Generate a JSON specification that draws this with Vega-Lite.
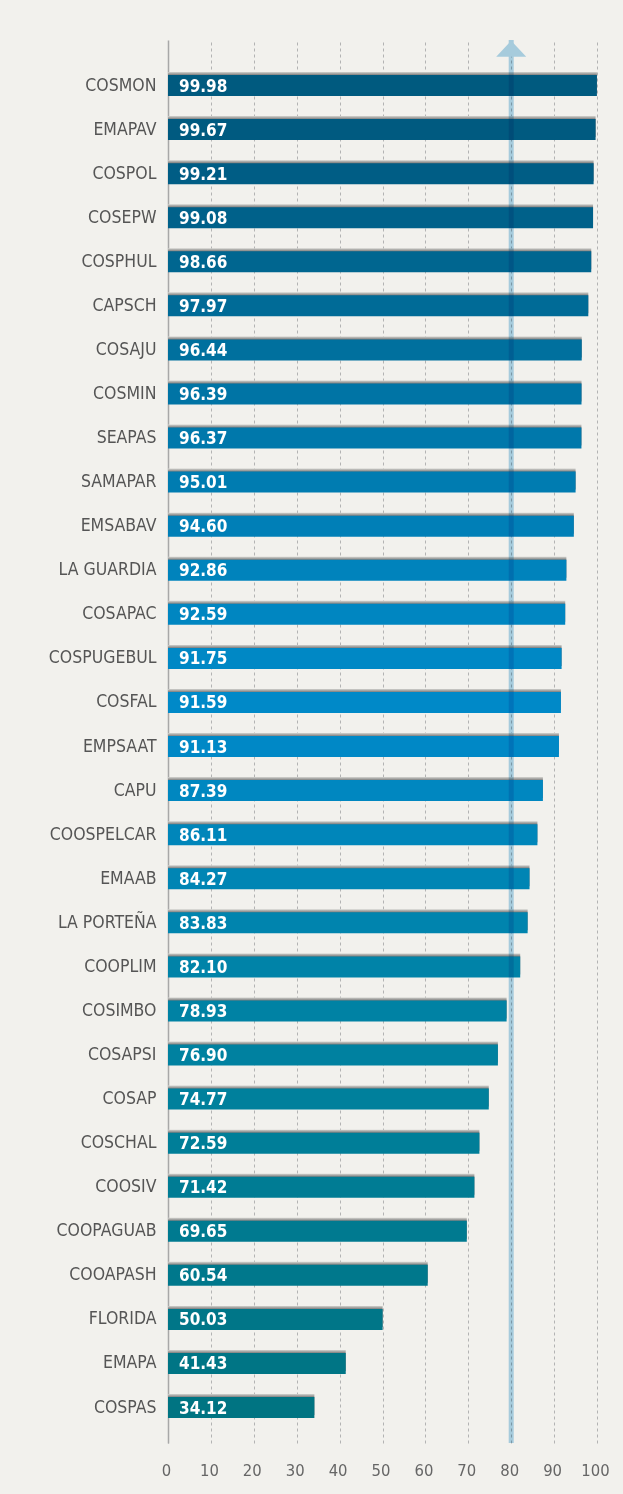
{
  "$schema": "https://vega.github.io/schema/vega-lite/v6.json",
  "width": 429,
  "height": 1403,
  "autosize": "none",
  "padding": {"left": 168, "top": 40, "right": 26, "bottom": 51},
  "background": "#f2f1ed",
  "config": {
    "view": {"stroke": null},
    "font": "DejaVu Sans Condensed"
  },
  "data": {
    "values": [
      {"name": "COSMON", "value": 99.98},
      {"name": "EMAPAV", "value": 99.67},
      {"name": "COSPOL", "value": 99.21},
      {"name": "COSEPW", "value": 99.08},
      {"name": "COSPHUL", "value": 98.66},
      {"name": "CAPSCH", "value": 97.97},
      {"name": "COSAJU", "value": 96.44},
      {"name": "COSMIN", "value": 96.39},
      {"name": "SEAPAS", "value": 96.37},
      {"name": "SAMAPAR", "value": 95.01},
      {"name": "EMSABAV", "value": 94.60},
      {"name": "LA GUARDIA", "value": 92.86},
      {"name": "COSAPAC", "value": 92.59},
      {"name": "COSPUGEBUL", "value": 91.75},
      {"name": "COSFAL", "value": 91.59},
      {"name": "EMPSAAT", "value": 91.13},
      {"name": "CAPU", "value": 87.39},
      {"name": "COOSPELCAR", "value": 86.11},
      {"name": "EMAAB", "value": 84.27},
      {"name": "LA PORTEÑA", "value": 83.83},
      {"name": "COOPLIM", "value": 82.10},
      {"name": "COSIMBO", "value": 78.93},
      {"name": "COSAPSI", "value": 76.90},
      {"name": "COSAP", "value": 74.77},
      {"name": "COSCHAL", "value": 72.59},
      {"name": "COOSIV", "value": 71.42},
      {"name": "COOPAGUAB", "value": 69.65},
      {"name": "COOAPASH", "value": 60.54},
      {"name": "FLORIDA", "value": 50.03},
      {"name": "EMAPA", "value": 41.43},
      {"name": "COSPAS", "value": 34.12}
    ]
  },
  "layer": [
    {
      "mark": {
        "type": "bar",
        "yOffset": -3,
        "fill": {
          "gradient": "linear",
          "x1": 0, "y1": 0, "x2": 0, "y2": 1,
          "stops": [
            {"offset": 0, "color": "#d2d2ce"},
            {"offset": 0.15, "color": "#7a7a7a"},
            {"offset": 1, "color": "#7a7a7a"}
          ]
        }
      },
      "encoding": {
        "y": {
          "field": "name",
          "type": "nominal",
          "sort": null,
          "scale": {"paddingInner": 0.5235, "paddingOuter": 0.68, "align": 0.584},
          "axis": {
            "title": null,
            "domain": true,
            "domainColor": "#a8a8a8",
            "domainWidth": 1.5,
            "ticks": false,
            "grid": false,
            "labelPadding": 12,
            "labelFontSize": 17.5,
            "labelColor": "#555555",
            "labelFont": "DejaVu Sans Condensed"
          }
        },
        "x": {
          "field": "value",
          "type": "quantitative",
          "scale": {"domain": [0, 100], "nice": false},
          "axis": {
            "title": null,
            "values": [0, 10, 20, 30, 40, 50, 60, 70, 80, 90, 100],
            "domain": false,
            "ticks": false,
            "grid": true,
            "gridDash": [3, 3],
            "gridColor": "#b3b3b3",
            "gridWidth": 1,
            "labelFontSize": 16.5,
            "labelColor": "#666666",
            "labelPadding": 19,
            "labelOffset": -2,
            "labelFlush": false,
            "labelOverlap": false,
            "labelFont": "DejaVu Sans Condensed"
          }
        }
      }
    },
    {
      "mark": {"type": "bar"},
      "encoding": {
        "y": {"field": "name", "type": "nominal", "sort": null},
        "x": {"field": "value", "type": "quantitative"},
        "color": {
          "field": "name",
          "type": "nominal",
          "legend": null,
          "scale": {
            "domain": ["COSMON","EMAPAV","COSPOL","COSEPW","COSPHUL","CAPSCH","COSAJU","COSMIN","SEAPAS","SAMAPAR","EMSABAV","LA GUARDIA","COSAPAC","COSPUGEBUL","COSFAL","EMPSAAT","CAPU","COOSPELCAR","EMAAB","LA PORTEÑA","COOPLIM","COSIMBO","COSAPSI","COSAP","COSCHAL","COOSIV","COOPAGUAB","COOAPASH","FLORIDA","EMAPA","COSPAS"],
            "range": ["#005a7f","#005a80","#005d85","#00618a","#006690","#006b97","#00709e","#0074a5","#0078ab","#007cb1","#007fb7","#0083bc","#0086c1","#0088c5","#0089c8","#0088c6","#0087c0","#0086ba","#0085b4","#0084ae","#0083a8","#0082a4","#0081a0","#00809c","#007e98","#007c94","#007a90","#00788c","#007688","#007585","#007482"]
          }
        }
      }
    },
    {
      "mark": {
        "type": "text",
        "align": "left",
        "baseline": "middle",
        "dx": 11,
        "dy": 1,
        "font": "DejaVu Sans Condensed",
        "fontWeight": "bold",
        "fontSize": 17,
        "color": "#ffffff"
      },
      "encoding": {
        "y": {"field": "name", "type": "nominal", "sort": null},
        "x": {"datum": 0, "type": "quantitative"},
        "text": {"field": "value", "type": "quantitative", "format": ".2f"}
      }
    },
    {
      "data": {"values": [{"target": 80}]},
      "mark": {"type": "rule", "strokeWidth": 5, "color": "#afd7ed", "blend": "multiply"},
      "encoding": {
        "x": {"field": "target", "type": "quantitative"}
      }
    },
    {
      "data": {"values": [{"target": 80}]},
      "mark": {
        "type": "point",
        "shape": "M-1,0.533L1,0.533L0,-0.533Z",
        "size": 900,
        "filled": true,
        "opacity": 1,
        "fill": "#a6cbdc",
        "strokeWidth": 0,
        "yOffset": -36.8
      },
      "encoding": {
        "x": {"field": "target", "type": "quantitative"},
        "y": {"datum": "COSMON"}
      }
    }
  ]
}
